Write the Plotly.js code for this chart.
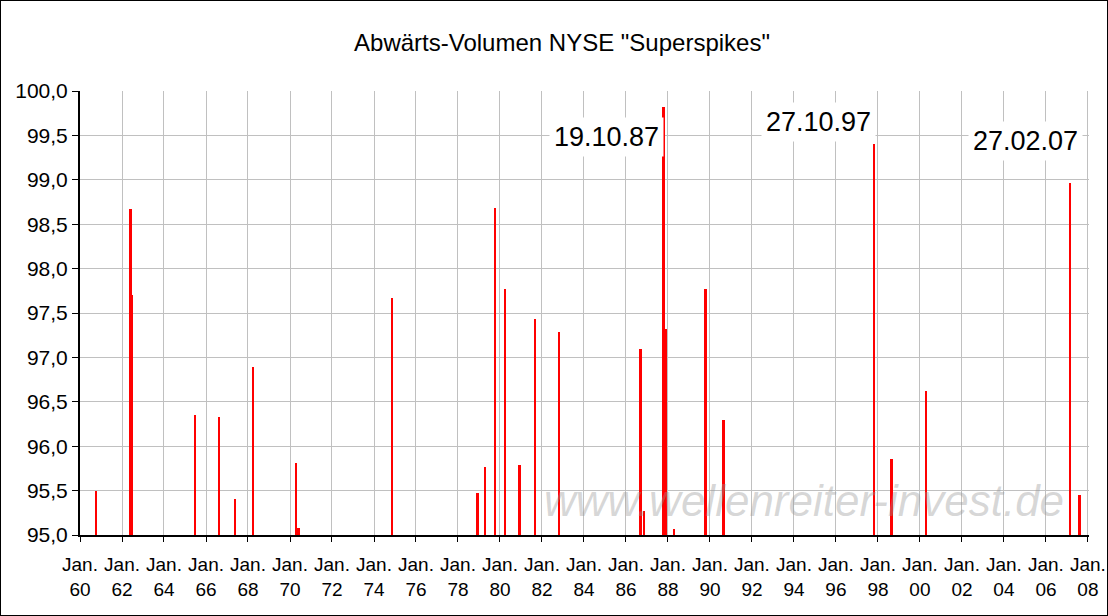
<!DOCTYPE html>
<html>
<head>
<meta charset="utf-8">
<script src="https://cdn.plot.ly/plotly-3.0.1.min.js"></script>
<style>
html,body{margin:0;padding:0;background:#fff;}
#wrap{width:1108px;height:616px;box-sizing:border-box;border:1px solid #000;overflow:hidden;}
#chart{width:1106px;height:614px;}
</style>
</head>
<body>
<div id="wrap"><div id="chart"></div></div>
<script>
// Dates of the down-volume "superspikes" and their percentage of down volume
const spikeDates = [
  "1960-10-03","1962-05-28","1962-06-22","1965-06-28","1966-08-19","1967-05-18",
  "1968-03-25","1970-04-20","1970-05-30","1974-11-06","1978-12-05","1979-04-20",
  "1979-10-10","1980-03-31","1980-12-08","1981-09-01","1982-10-22","1986-09-11",
  "1986-11-14","1987-10-19","1987-11-30","1988-04-14","1989-10-13","1990-08-23",
  "1997-10-27","1998-08-27","2000-04-14","2007-02-27","2007-08-09"
];
const downVolumePct = [
  95.50, 98.67, 97.70, 96.35, 96.33, 95.41,
  96.89, 95.81, 95.08, 97.67, 95.47, 95.77,
  98.68, 97.77, 95.79, 97.43, 97.29, 97.09,
  95.27, 99.82, 97.32, 95.07, 97.77, 96.30,
  99.40, 95.86, 96.62, 98.96, 95.45
];
const labelTexts = ["19.10.87", "27.10.97", "27.02.07"];
const titleText = 'Abwärts-Volumen NYSE "Superspikes"';
const watermarkText = "www.wellenreiter-invest.de";

const font = "Liberation Sans, Arial, sans-serif";

const trace = {
  type: "bar",
  x: spikeDates,
  y: downVolumePct,
  width: spikeDates.map(() => 3.6e9),
  marker: {color: "#ff0000", line: {width: 0}},
  hoverinfo: "x+y"
};

const L = 79, T = 90, W = 1106, H = 614;
const R = 18, B = H - 534;
const pw = W - L - R, ph = H - T - B;
function px(x){ return (x - 1 - L) / pw; }
function py(y){ return (535 - y) / ph; }

const labelPos = [[606, 137], [818, 122], [1025, 141]];

const annotations = labelTexts.map((t, i) => ({
  text: t, xref: "paper", yref: "paper",
  x: px(labelPos[i][0]), y: py(labelPos[i][1]),
  xanchor: "center", yanchor: "middle", showarrow: false,
  font: {family: font, size: 27, color: "#000"},
  bgcolor: "#ffffff", borderpad: 4
}));
annotations.push({
  text: "<i>" + watermarkText + "</i>", xref: "paper", yref: "paper",
  x: px(804), y: py(500), xanchor: "center", yanchor: "middle", showarrow: false,
  font: {family: font, size: 44, color: "rgba(150,150,150,0.38)"}
});

const layout = {
  width: W, height: H,
  margin: {l: L, r: R, t: T, b: B},
  paper_bgcolor: "#fff", plot_bgcolor: "#fff",
  separators: ",.",
  showlegend: false,
  bargap: 0,
  title: {text: titleText, font: {family: font, size: 24, color: "#000"},
          x: px(562), xref: "paper", xanchor: "center", y: 1 - 42 / H, yanchor: "middle"},
  xaxis: {
    type: "date",
    range: ["1960-01-01", "2008-01-20"],
    tick0: "1960-01-01", dtick: "M24",
    tickformat: "Jan.<br>%y",
    showgrid: true, gridcolor: "#c0c0c0", gridwidth: 1,
    showline: true, linecolor: "#000", linewidth: 2,
    ticks: "outside", ticklen: 5, tickcolor: "#000",
    ticklabelstandoff: 6,
    tickfont: {family: font, size: 19, color: "#000"},
    zeroline: false, fixedrange: true
  },
  yaxis: {
    range: [95, 100],
    dtick: 0.5, tick0: 95,
    tickformat: ".1f",
    showgrid: true, gridcolor: "#c0c0c0", gridwidth: 1,
    showline: true, linecolor: "#000", linewidth: 2,
    ticks: "outside", ticklen: 6, tickcolor: "#000",
    tickfont: {family: font, size: 21, color: "#000"},
    zeroline: false, fixedrange: true
  },
  annotations: annotations
};

Plotly.newPlot("chart", [trace], layout, {displayModeBar: false, staticPlot: true});
</script>
</body>
</html>
